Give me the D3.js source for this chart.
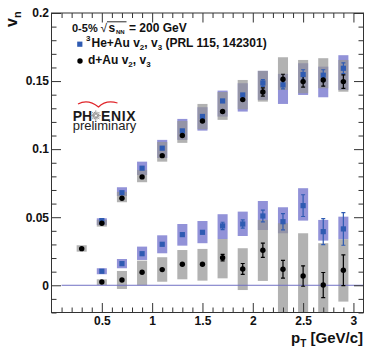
<!DOCTYPE html>
<html><head><meta charset="utf-8">
<script src="https://cdn.jsdelivr.net/npm/d3@7"></script>
<style>
html,body{margin:0;padding:0;background:#fff;}
svg{display:block;font-family:"Liberation Sans",Arial,Helvetica,sans-serif;}
</style>
</head><body>
<svg id="c" width="374" height="355"></svg>
<script>
// ---------------- data ----------------
const pTdAu = [0.3,0.5,0.7,0.9,1.1,1.3,1.5,1.7,1.9,2.1,2.3,2.5,2.7,2.9];
const pT    = [0.5,0.7,0.9,1.1,1.3,1.5,1.7,1.9,2.1,2.3,2.5,2.7,2.9];

// d+Au v2
const dAuV2     = [0.0269,0.0456,0.0639,0.0796,0.0952,0.1100,0.1207,0.1276,0.1364,0.1420,0.1513,0.1496,0.1508,0.1496];
const dAuV2Stat = [0.0005,0.0005,0.0006,0.0007,0.0008,0.0010,0.0012,0.0015,0.0020,0.0030,0.0037,0.0040,0.0045,0.0050];
const dAuV2SysLo= [0.0247,0.0431,0.0610,0.0757,0.0908,0.1046,0.1146,0.1215,0.1293,0.1349,0.1435,0.1411,0.1447,0.1422];
const dAuV2SysHi= [0.0294,0.0480,0.0686,0.0847,0.1053,0.1207,0.1332,0.1420,0.1508,0.1575,0.1675,0.1655,0.1668,0.1655];

// 3He+Au v2
const heV2      = [0.0475,0.0680,0.0860,0.1007,0.1134,0.1240,0.1354,0.1398,0.1486,0.1472,0.1548,0.1543,0.1594];
const heV2Stat  = [0.0005,0.0006,0.0007,0.0008,0.0010,0.0012,0.0015,0.0020,0.0025,0.0030,0.0035,0.0040,0.0040];
const heV2SysLo = [0.0443,0.0656,0.0810,0.0935,0.1068,0.1136,0.1239,0.1276,0.1362,0.1332,0.1398,0.1381,0.1435];
const heV2SysHi = [0.0492,0.0720,0.0908,0.1068,0.1222,0.1308,0.1430,0.1484,0.1575,0.1553,0.1631,0.1606,0.1690];

// d+Au v3
const dAuV3     = [0.0024,0.0039,0.0096,0.0115,0.0154,0.0154,0.0203,0.0120,0.0257,0.0118,0.0068,0.0002,0.0110];
const dAuV3Stat = [0.0008,0.0010,0.0012,0.0014,0.0016,0.0018,0.0024,0.0040,0.0052,0.0065,0.0075,0.0092,0.0113];
const dAuV3SysLo= [0.0002,-0.0027,0.0000,0.0026,0.0044,0.0034,0.0051,-0.0035,0.0032,-0.0400,-0.0400,-0.0400,-0.0120];
const dAuV3SysHi= [0.0044,0.0105,0.0181,0.0206,0.0259,0.0267,0.0340,0.0272,0.0480,0.0456,0.0382,0.0309,0.0338];

// 3He+Au v3
const heV3      = [0.0103,0.0159,0.0232,0.0301,0.0372,0.0389,0.0436,0.0450,0.0509,0.0467,0.0585,0.0394,0.0414];
const heV3Stat  = [0.0006,0.0008,0.0010,0.0012,0.0015,0.0018,0.0027,0.0030,0.0043,0.0060,0.0080,0.0095,0.0120];
const heV3SysLo = [0.0081,0.0125,0.0186,0.0235,0.0291,0.0309,0.0340,0.0362,0.0406,0.0382,0.0475,0.0328,0.0338];
const heV3SysHi = [0.0125,0.0193,0.0284,0.0367,0.0450,0.0472,0.0522,0.0541,0.0619,0.0573,0.0713,0.0480,0.0504];

const xTicks = [0.5,1,1.5,2,2.5,3];
const xTickLabels = ["0.5","1","1.5","2","2.5","3"];
const yTicks = [0,0.05,0.1,0.15,0.2];
const yTickLabels = ["0","0.05","0.1","0.15","0.2"];

// ---------------- chart ----------------
const svg = d3.select("#c");
svg.append("rect").attr("width",374).attr("height",355).attr("fill","#fff");

const x = d3.scaleLinear().domain([0,3.1]).range([51.5,363.5]);
const y = d3.scaleLinear().domain([-0.02,0.2]).range([312.5,13]);
const X0=x.range()[0], X1=x.range()[1], Y0=y.range()[0], Y1=y.range()[1];

svg.append("clipPath").attr("id","clip").append("rect")
  .attr("x",X0).attr("y",Y1).attr("width",X1-X0).attr("height",Y0-Y1);

const plot = svg.append("g").attr("clip-path","url(#clip)");

const boxW = 0.05;
const BLUEBOX = "#9292d8", GRAYBOX = "rgba(148,148,148,0.72)";
function boxes(xs, lo, hi, fill){
  plot.append("g").selectAll("rect").data(xs).join("rect")
    .attr("x",d=>x(d-boxW)).attr("width",d=>x(d+boxW)-x(d-boxW))
    .attr("y",(d,i)=>y(hi[i])).attr("height",(d,i)=>y(lo[i])-y(hi[i]))
    .attr("fill",fill);
}
boxes(pT, heV2SysLo, heV2SysHi, BLUEBOX);
boxes(pT, heV3SysLo, heV3SysHi, BLUEBOX);
boxes(pTdAu, dAuV2SysLo, dAuV2SysHi, GRAYBOX);
boxes(pT, dAuV3SysLo, dAuV3SysHi, GRAYBOX);

// zero line
plot.append("line").attr("x1",x(0.1)).attr("x2",x(3.1)).attr("y1",y(0)).attr("y2",y(0))
  .attr("stroke","#7070c4").attr("stroke-width",1);

function errs(xs, v, e, color){
  const g = plot.append("g").attr("stroke",color).attr("stroke-width",1.2);
  xs.forEach((d,i)=>{
    const ya=y(v[i]+e[i]), yb=y(v[i]-e[i]);
    if (yb-ya < 6) return;
    g.append("line").attr("x1",x(d)).attr("x2",x(d)).attr("y1",ya).attr("y2",yb);
    g.append("line").attr("x1",x(d)-2).attr("x2",x(d)+2).attr("y1",ya).attr("y2",ya);
    g.append("line").attr("x1",x(d)-2).attr("x2",x(d)+2).attr("y1",yb).attr("y2",yb);
  });
}
const BLUE = "#2f5bb2";
errs(pT, heV2, heV2Stat, BLUE);
errs(pT, heV3, heV3Stat, BLUE);
errs(pTdAu, dAuV2, dAuV2Stat, "#000");
errs(pT, dAuV3, dAuV3Stat, "#000");

function squares(xs, v){
  plot.append("g").selectAll("rect").data(xs).join("rect")
    .attr("x",d=>x(d)-2.6).attr("y",(d,i)=>y(v[i])-2.6).attr("width",5.2).attr("height",5.2)
    .attr("fill",BLUE);
}
function dots(xs, v){
  plot.append("g").selectAll("circle").data(xs).join("circle")
    .attr("cx",d=>x(d)).attr("cy",(d,i)=>y(v[i])).attr("r",2.7).attr("fill","#000");
}
squares(pT, heV2); squares(pT, heV3);
dots(pTdAu, dAuV2); dots(pT, dAuV3);

// ---------------- axes ----------------
const yMinor = d3.range(-2,21).filter(i=>i%5!==0).map(i=>i/100);
const xMinor = d3.range(1,31).filter(i=>i%5!==0).map(i=>i/10);
const MAJ = 9.5, MIN = 5;
function styleAxis(g){
  g.select(".domain").remove();
  g.selectAll(".tick line").attr("stroke","#333").attr("stroke-width",1);
  g.selectAll("text").attr("font-size",12).attr("font-weight","bold")
    .attr("fill","#111").attr("font-family","Liberation Sans, Arial, sans-serif");
}
svg.append("g").attr("transform",`translate(${X0},0)`)
  .call(d3.axisLeft(y).tickValues(yTicks).tickSize(-MAJ).tickPadding(2.5).tickFormat((d,i)=>yTickLabels[i])).call(styleAxis);
svg.append("g").attr("transform",`translate(${X0},0)`)
  .call(d3.axisLeft(y).tickValues(yMinor).tickSize(-MIN).tickFormat("")).call(styleAxis);
svg.append("g").attr("transform",`translate(${X1},0)`)
  .call(d3.axisRight(y).tickValues(yTicks).tickSize(-MAJ).tickFormat("")).call(styleAxis);
svg.append("g").attr("transform",`translate(${X1},0)`)
  .call(d3.axisRight(y).tickValues(yMinor).tickSize(-MIN).tickFormat("")).call(styleAxis);
svg.append("g").attr("transform",`translate(0,${Y0})`)
  .call(d3.axisBottom(x).tickValues(xTicks).tickSize(-MAJ).tickPadding(4).tickFormat((d,i)=>xTickLabels[i])).call(styleAxis);
svg.append("g").attr("transform",`translate(0,${Y0})`)
  .call(d3.axisBottom(x).tickValues(xMinor).tickSize(-MIN).tickFormat("")).call(styleAxis);
svg.append("g").attr("transform",`translate(0,${Y1})`)
  .call(d3.axisTop(x).tickValues(xTicks).tickSize(-MAJ).tickFormat("")).call(styleAxis);
svg.append("g").attr("transform",`translate(0,${Y1})`)
  .call(d3.axisTop(x).tickValues(xMinor).tickSize(-MIN).tickFormat("")).call(styleAxis);

// frame
svg.append("rect").attr("x",X0).attr("y",Y1).attr("width",X1-X0).attr("height",Y0-Y1)
  .attr("fill","none").attr("stroke","#333").attr("stroke-width",1);

// axis titles
const xt = svg.append("text").attr("x",363).attr("y",342.5).attr("text-anchor","end")
  .attr("font-size",15).attr("font-weight","bold").attr("fill","#111");
xt.append("tspan").text("p");
xt.append("tspan").attr("font-size",10).attr("dy",4).text("T");
xt.append("tspan").attr("dy",-4).text(" [GeV/c]");

const yt = svg.append("text").attr("transform","translate(17,27) rotate(-90)")
  .attr("font-size",16).attr("font-weight","bold").attr("fill","#111");
yt.append("tspan").text("v");
yt.append("tspan").attr("font-size",11).attr("dy",4).text("n");

// legend
const L = svg.append("g").attr("font-weight","bold").attr("font-size",12).attr("fill","#111");
L.append("text").attr("x",72).attr("y",31.5).attr("font-size",11).text("0-5%");
L.append("text").attr("x",100.5).attr("y",31.5).attr("font-weight","normal").text("\u221A");
L.append("line").attr("x1",107).attr("x2",126.5).attr("y1",21.8).attr("y2",21.8).attr("stroke","#111").attr("stroke-width",0.9);
L.append("text").attr("x",108.5).attr("y",31.5).text("s");
L.append("text").attr("x",116).attr("y",33.5).attr("font-size",6).text("NN");
L.append("text").attr("x",129).attr("y",31.5).text("= 200 GeV");

L.append("rect").attr("x",77.2).attr("y",41.6).attr("width",5.2).attr("height",5.2).attr("fill",BLUE);
L.append("text").attr("x",86).attr("y",41).attr("font-size",8).text("3");
const t2 = L.append("text").attr("x",91.5).attr("y",46.5);
t2.append("tspan").text("He+Au v");
t2.append("tspan").attr("font-size",8).attr("dy",3).text("2");
t2.append("tspan").attr("dy",-3).text(", v");
t2.append("tspan").attr("font-size",8).attr("dy",3).text("3");
t2.append("tspan").attr("dy",-3).text(" (PRL 115, 142301)");

L.append("circle").attr("cx",80).attr("cy",61).attr("r",2.7).attr("fill","#000");
const t3 = L.append("text").attr("x",88).attr("y",64);
t3.append("tspan").text("d+Au v");
t3.append("tspan").attr("font-size",8).attr("dy",3).text("2");
t3.append("tspan").attr("dy",-3).text(", v");
t3.append("tspan").attr("font-size",8).attr("dy",3).text("3");

// PHENIX logo
const P = svg.append("g");
P.append("path").attr("d","M78,104 Q88,98.5 98.5,107 Q106,99.5 117.5,103")
  .attr("fill","none").attr("stroke","#e0262b").attr("stroke-width",1.3);
const logo = P.append("text").attr("x",72.7).attr("y",120.7).attr("fill","#1a1a1a");
logo.append("tspan").attr("font-size",14).attr("font-weight","bold").text("PH");
logo.append("tspan").attr("x",101).attr("font-size",14).attr("font-weight","bold").attr("letter-spacing",0.6).text("ENIX");
logo.append("tspan").attr("x",72.7).attr("dy",9).attr("font-size",13).attr("fill","#222").text("preliminary");
const star = P.append("g").attr("stroke","#8a8a8a").attr("stroke-width",0.9);
d3.range(16).forEach(k=>{
  const a = k*Math.PI/8, r0=1.2, r1 = k%2? 4:5.2;
  star.append("line").attr("x1",95.8+r0*Math.cos(a)).attr("y1",115.6+r0*Math.sin(a))
    .attr("x2",95.8+r1*Math.cos(a)).attr("y2",115.6+r1*Math.sin(a));
});
</script>
</body></html>
